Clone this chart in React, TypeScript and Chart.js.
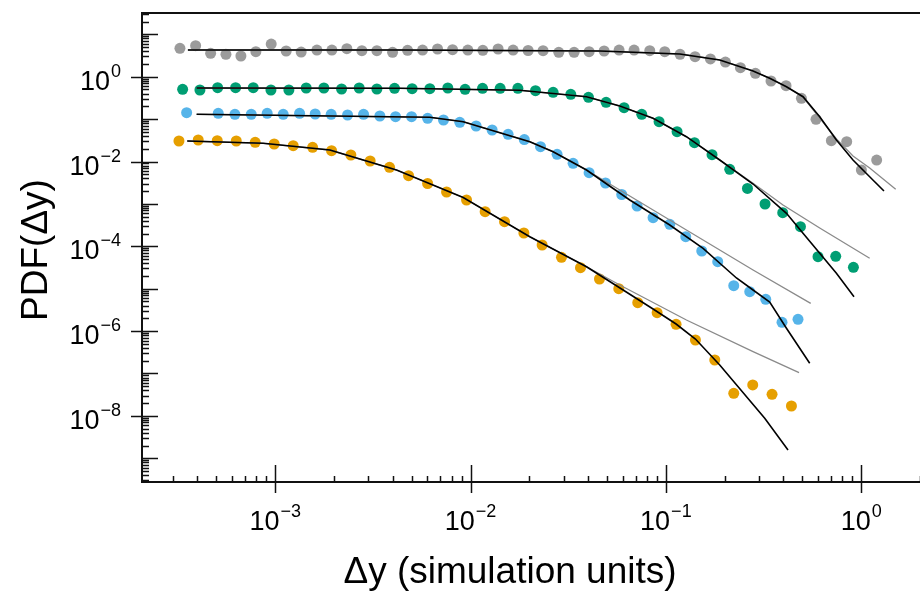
import React, { useEffect, useRef } from "react";
import { Chart, registerables } from "chart.js";

Chart.register(...registerables);

// ---- data ----
const grayX = [3.253e-4, 3.914e-4, 4.671e-4, 5.595e-4, 6.675e-4, 7.962e-4, 9.54e-4, 1.138e-3, 1.358e-3, 1.635e-3, 1.951e-3, 2.327e-3, 2.778e-3, 3.315e-3, 3.989e-3, 4.76e-3, 5.681e-3, 6.777e-3, 8.09e-3, 9.687e-3, 1.156e-2, 1.384e-2, 1.652e-2, 1.972e-2, 2.352e-2, 2.83e-2, 3.39e-2, 4.046e-2, 4.829e-2, 5.761e-2, 6.875e-2, 8.272e-2, 9.872e-2, 0.1182, 0.1411, 0.1691, 0.2018, 0.2408, 0.2874, 0.3454, 0.4123, 0.4943, 0.5871, 0.7036, 0.8429, 1.002, 1.2];
const grayY = [4.68, 5.38, 3.56, 3.38, 3.08, 3.89, 5.9, 4.04, 3.82, 4.26, 4.26, 4.57, 4.1, 4.1, 3.76, 4.19, 4.26, 4.5, 4.33, 4.26, 4.19, 4.5, 4.26, 4.15, 4.1, 3.76, 3.76, 3.89, 4.04, 4.26, 4.26, 4.1, 3.89, 3.38, 2.96, 2.62, 2.22, 1.63, 1.2, 0.792, 0.614, 0.309, 0.0989, 0.031, 0.0293, 6.3e-3, 1.08e-2];

const greenX = [3.358e-4, 4.117e-4, 5.073e-4, 6.27e-4, 7.72e-4, 9.51e-4, 1.175e-3, 1.441e-3, 1.775e-3, 2.187e-3, 2.691e-3, 3.315e-3, 4.083e-3, 5.024e-3, 6.19e-3, 7.65e-3, 9.38e-3, 1.152e-2, 1.418e-2, 1.747e-2, 2.151e-2, 2.647e-2, 3.26e-2, 4.017e-2, 4.943e-2, 6.109e-2, 7.525e-2, 9.23e-2, 0.1141, 0.1401, 0.1723, 0.2123, 0.2616, 0.3219, 0.3965, 0.4886, 0.6011, 0.7406, 0.9123];
const greenY = [0.5045, 0.4857, 0.5502, 0.5502, 0.5502, 0.4857, 0.4857, 0.5415, 0.5415, 0.5128, 0.5415, 0.5128, 0.5327, 0.5212, 0.5212, 0.5415, 0.5045, 0.5327, 0.5327, 0.5327, 0.4676, 0.4285, 0.3845, 0.3267, 0.249, 0.1857, 0.1298, 0.0868, 0.0505, 0.02775, 0.01446, 6.55e-3, 2.31e-3, 9.94e-4, 6.2e-4, 2.9e-4, 5.68e-5, 5.81e-5, 3.2e-5];

const blueX = [3.52e-4, 5.11e-4, 6.22e-4, 7.54e-4, 9.1e-4, 1.099e-3, 1.333e-3, 1.602e-3, 1.934e-3, 2.347e-3, 2.834e-3, 3.434e-3, 4.132e-3, 4.99e-3, 6.03e-3, 7.27e-3, 8.81e-3, 1.068e-2, 1.29e-2, 1.557e-2, 1.885e-2, 2.281e-2, 2.774e-2, 3.35e-2, 4.046e-2, 4.908e-2, 5.944e-2, 7.12e-2, 8.6e-2, 0.1047, 0.1264, 0.1527, 0.1843, 0.2226, 0.2688, 0.3246, 0.3932, 0.4748];
const blueY = [0.1416, 0.137, 0.1298, 0.1298, 0.137, 0.1298, 0.137, 0.1319, 0.1298, 0.1249, 0.1298, 0.1183, 0.1139, 0.1139, 0.1044, 0.0953, 0.0841, 0.0688, 0.0553, 0.0438, 0.033, 0.02234, 0.01478, 9.07e-3, 5.44e-3, 3.11e-3, 1.666e-3, 8.92e-4, 4.73e-4, 3.3e-4, 1.684e-4, 7.75e-5, 4.33e-5, 1.177e-5, 8.5e-6, 5.62e-6, 1.613e-6, 1.898e-6];

const orangeX = [3.216e-4, 4.036e-4, 5.05e-4, 6.32e-4, 7.9e-4, 9.88e-4, 1.236e-3, 1.554e-3, 1.943e-3, 2.44e-3, 3.063e-3, 3.85e-3, 4.817e-3, 6.03e-3, 7.54e-3, 9.54e-3, 1.188e-2, 1.493e-2, 1.875e-2, 2.325e-2, 2.921e-2, 3.655e-2, 4.572e-2, 5.741e-2, 7.18e-2, 9.02e-2, 0.1128, 0.1417, 0.178, 0.2226, 0.2784, 0.3496, 0.4393];
const orangeY = [0.03045, 0.03214, 0.03095, 0.03045, 0.02837, 0.02587, 0.02359, 0.02162, 0.01798, 0.01423, 0.01027, 7.3e-3, 4.62e-3, 3.03e-3, 1.909e-3, 1.236e-3, 6.55e-4, 3.8e-4, 2.06e-4, 1.073e-4, 5.5e-5, 3.13e-5, 1.693e-5, 1.0e-5, 4.67e-6, 2.72e-6, 1.447e-6, 6.17e-7, 2.08e-7, 3.41e-8, 5.36e-8, 3.23e-8, 1.712e-8];

// fitted curves (black = full model, gray = power-law tail model)
const grayFitBlackX = [3.573e-4, 4.346e-3, 4.588e-2, 0.1178, 0.1887, 0.2795, 0.3401, 0.4143, 0.5037, 0.6132, 0.7467, 0.9079, 1.105, 1.308];
const grayFitBlackY = [4.26, 4.26, 4.04, 3.43, 2.48, 1.363, 0.917, 0.581, 0.3376, 0.1139, 0.0321, 0.01085, 4.38e-3, 2.01e-3];
const grayFitGrayX = [3.573e-4, 4.346e-3, 4.588e-2, 0.1178, 0.1887, 0.2795, 0.3401, 0.4143, 0.5037, 0.6132, 0.7467, 0.9079, 1.105, 1.502];
const grayFitGrayY = [4.26, 4.26, 4.04, 3.43, 2.48, 1.363, 0.917, 0.581, 0.332, 0.1061, 0.0339, 0.01349, 7.03e-3, 2.21e-3];

const greenFitBlackX = [3.96e-4, 4.346e-3, 1.788e-2, 3.924e-2, 5.809e-2, 8.6e-2, 0.1274, 0.1887, 0.2795, 0.4143, 0.5037, 0.6132, 0.7467, 0.9188];
const greenFitBlackY = [0.5415, 0.5327, 0.4777, 0.3376, 0.2037, 0.1044, 0.03846, 0.01085, 2.946e-3, 6.0e-4, 2.025e-4, 6.84e-5, 2.31e-5, 6.48e-6];
const greenFitGrayX = [3.96e-4, 4.346e-3, 1.788e-2, 3.924e-2, 5.809e-2, 8.6e-2, 0.1274, 0.1887, 0.2795, 0.3979, 0.6132, 1.105];
const greenFitGrayY = [0.5415, 0.5327, 0.4777, 0.3376, 0.2037, 0.1044, 0.03846, 0.01085, 3.06e-3, 9.42e-4, 2.7e-4, 5.21e-5];

const blueFitBlackX = [3.96e-4, 6.19e-3, 9.17e-3, 1.358e-2, 2.011e-2, 2.647e-2, 3.924e-2, 6.535e-2, 0.1047, 0.1551, 0.2298, 0.2795, 0.3401, 0.4143, 0.5449];
const blueFitBlackY = [0.1298, 0.1103, 0.0868, 0.0505, 0.0293, 0.01702, 6.3e-3, 1.236e-3, 3.18e-4, 8.97e-5, 1.789e-5, 9.32e-6, 4.86e-6, 1.164e-6, 1.74e-7];
const blueFitGrayX = [3.96e-4, 6.19e-3, 9.17e-3, 1.358e-2, 2.011e-2, 2.647e-2, 3.924e-2, 4.773e-2, 0.1274, 0.2795, 0.5515];
const blueFitGrayY = [0.1298, 0.1103, 0.0868, 0.0505, 0.0293, 0.01702, 6.3e-3, 3.66e-3, 2.42e-4, 2.76e-5, 4.52e-6];

const orangeFitBlackX = [3.545e-4, 8.68e-4, 1.905e-3, 4.181e-3, 9.17e-3, 2.011e-2, 3.924e-2, 8.6e-2, 0.1128, 0.1417, 0.1887, 0.3207, 0.422];
const orangeFitBlackY = [0.03045, 0.02687, 0.01867, 6.3e-3, 1.416e-3, 1.684e-4, 3.3e-5, 3.32e-6, 1.47e-6, 6.51e-7, 1.587e-7, 8.78e-9, 1.57e-9];
const orangeFitGrayX = [3.545e-4, 8.68e-4, 1.905e-3, 4.181e-3, 9.17e-3, 2.011e-2, 3.924e-2, 5.809e-2, 0.1274, 0.2795, 0.4806];
const orangeFitGrayY = [0.03045, 0.02687, 0.01867, 6.3e-3, 1.416e-3, 1.684e-4, 3.3e-5, 1.223e-5, 1.827e-6, 3.27e-7, 1.045e-7];

// axis ranges and tick labels
const xMin = 2.08e-4;
const xMax = 2.0;
const yMin = 2.76e-10;
const yMax = 31.8;
const xLabelExponents = [-3, -2, -1, 0];
const yLabelExponents = [0, -2, -4, -6, -8];
const xTitle = "Δy (simulation units)";
const yTitle = "PDF(Δy)";

const FONT = '"Liberation Sans", Arial, Helvetica, sans-serif';

const zip = (xs: number[], ys: number[]) => xs.map((x, i) => ({ x, y: ys[i] }));

const expText = (e: number) => (e < 0 ? "\u2212" + Math.abs(e) : String(e));

const axesPlugin = {
  id: "customAxes",
  afterDraw(chart: any) {
    const { ctx, chartArea: a } = chart;
    const xs = chart.scales.x;
    const ys = chart.scales.y;
    ctx.save();
    ctx.strokeStyle = "#111";
    ctx.lineWidth = 2;
    ctx.beginPath();
    ctx.moveTo(a.right, a.top);
    ctx.lineTo(a.left, a.top);
    ctx.lineTo(a.left, a.bottom);
    ctx.lineTo(a.right, a.bottom);
    ctx.stroke();

    ctx.lineWidth = 1.5;
    ctx.beginPath();
    for (let e = -11; e <= 2; e++) {
      for (let m = 1; m <= 9; m++) {
        const v = m * Math.pow(10, e);
        const py = ys.getPixelForValue(v);
        if (py < a.top + 1 || py > a.bottom - 1) continue;
        let x0 = a.left;
        let x1 = a.left + 7;
        if (m === 1) {
          x1 = a.left + 16;
          if (e % 2 === 0) x0 = a.left - 11;
        }
        ctx.moveTo(x0, Math.round(py) + 0.5);
        ctx.lineTo(x1, Math.round(py) + 0.5);
      }
    }
    for (let e = -5; e <= 1; e++) {
      for (let m = 1; m <= 9; m++) {
        const v = m * Math.pow(10, e);
        const px = xs.getPixelForValue(v);
        if (px < a.left + 1 || px > a.right) continue;
        let y0 = a.bottom;
        let y1 = a.bottom - 6;
        if (m === 1) {
          y0 = a.bottom + 11;
          y1 = a.bottom - 17;
        }
        ctx.moveTo(Math.round(px) + 0.5, y0);
        ctx.lineTo(Math.round(px) + 0.5, y1);
      }
    }
    ctx.stroke();

    ctx.fillStyle = "#000";
    ctx.textBaseline = "alphabetic";
    ctx.textAlign = "left";
    const big = `27px ${FONT}`;
    const small = `18px ${FONT}`;
    const measure = (e: number) => {
      ctx.font = big;
      const w1 = ctx.measureText("10").width;
      ctx.font = small;
      const w2 = ctx.measureText(expText(e)).width;
      return [w1, w2];
    };
    const drawPow = (e: number, left: number, base: number) => {
      const [w1] = measure(e);
      ctx.font = big;
      ctx.fillText("10", left, base);
      ctx.font = small;
      ctx.fillText(expText(e), left + w1 + 1, base - 13);
    };
    yLabelExponents.forEach((e) => {
      const py = ys.getPixelForValue(Math.pow(10, e));
      const [w1, w2] = measure(e);
      drawPow(e, a.left - 21 - (w1 + w2 + 1), py + 13);
    });
    xLabelExponents.forEach((e) => {
      const px = xs.getPixelForValue(Math.pow(10, e));
      const [w1, w2] = measure(e);
      drawPow(e, px - (w1 + w2 + 1) / 2, a.bottom + 48);
    });

    ctx.font = `37px ${FONT}`;
    ctx.textAlign = "center";
    ctx.fillText(xTitle, 510, 583);
    ctx.save();
    ctx.translate(37, 250);
    ctx.rotate(-Math.PI / 2);
    ctx.textBaseline = "middle";
    ctx.fillText(yTitle, 0, 0);
    ctx.restore();
    ctx.restore();
  },
};

const pointSet = (xs: number[], ys: number[], color: string) => ({
  type: "scatter" as const,
  data: zip(xs, ys),
  backgroundColor: color,
  borderWidth: 0,
  pointRadius: 5.5,
  pointHoverRadius: 5.5,
  order: 3,
});

const lineSet = (xs: number[], ys: number[], color: string, width: number, order: number) => ({
  type: "scatter" as const,
  data: zip(xs, ys),
  showLine: true,
  borderColor: color,
  borderWidth: width,
  pointRadius: 0,
  fill: false,
  tension: 0,
  order,
});

export default function App() {
  const ref = useRef<HTMLCanvasElement | null>(null);
  useEffect(() => {
    if (!ref.current) return;
    const chart = new Chart(ref.current, {
      type: "scatter",
      data: {
        datasets: [
          pointSet(grayX, grayY, "#9b9b9b"),
          pointSet(greenX, greenY, "#009E73"),
          pointSet(blueX, blueY, "#56B4E9"),
          pointSet(orangeX, orangeY, "#E69F00"),
          lineSet(grayFitGrayX, grayFitGrayY, "#8a8a8a", 1.3, 2),
          lineSet(greenFitGrayX, greenFitGrayY, "#8a8a8a", 1.3, 2),
          lineSet(blueFitGrayX, blueFitGrayY, "#8a8a8a", 1.3, 2),
          lineSet(orangeFitGrayX, orangeFitGrayY, "#8a8a8a", 1.3, 2),
          lineSet(grayFitBlackX, grayFitBlackY, "#000", 1.6, 1),
          lineSet(greenFitBlackX, greenFitBlackY, "#000", 1.6, 1),
          lineSet(blueFitBlackX, blueFitBlackY, "#000", 1.6, 1),
          lineSet(orangeFitBlackX, orangeFitBlackY, "#000", 1.6, 1),
        ] as any,
      },
      options: {
        animation: false,
        responsive: false,
        layout: { autoPadding: false, padding: { left: 142, top: 13, right: 0, bottom: 110 } },
        plugins: { legend: { display: false }, tooltip: { enabled: false } },
        events: [],
        scales: {
          x: { type: "logarithmic", min: xMin, max: xMax, display: false },
          y: { type: "logarithmic", min: yMin, max: yMax, display: false },
        },
      },
      plugins: [axesPlugin],
    });
    return () => chart.destroy();
  }, []);
  return (
    <div style={{ position: "fixed", left: 0, top: 0, width: 920, height: 592, background: "#fff" }}>
      <canvas ref={ref} width={920} height={592} style={{ width: 920, height: 592, display: "block" }} />
    </div>
  );
}
